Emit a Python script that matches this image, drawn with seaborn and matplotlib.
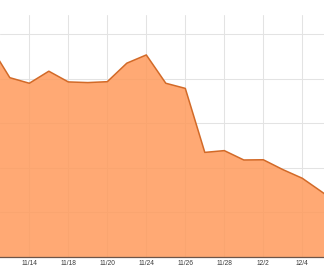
import matplotlib
matplotlib.use("Agg")
import matplotlib.pyplot as plt
import seaborn as sns
import pandas as pd

dates = ["11/12", "11/13", "11/14", "11/17", "11/18", "11/19", "11/20", "11/21",
         "11/24", "11/25", "11/26", "11/27", "11/28", "12/1", "12/2", "12/3",
         "12/4", "12/5", "12/8"]
values = [94.6, 80.4, 77.9, 83.3, 78.5, 78.2, 78.6, 86.9, 90.6, 77.9, 75.6,
          46.9, 47.7, 43.5, 43.6, 39.2, 35.3, 29.2, 23.0]
y_grid = [0, 20, 40, 60, 80, 100]

sns.set_style("white")
plt.rcParams['font.family'] = ['Liberation Sans', 'DejaVu Sans']

df = pd.DataFrame({"idx": range(len(values)), "value": values})

fig = plt.figure(figsize=(3.24, 2.77), dpi=100)
ax = fig.add_axes([0, 20 / 277, 1, 242 / 277])

ax.set_axisbelow(True)
ax.fill_between(df["idx"], df["value"], 0, color="#FF9A5C", alpha=0.85,
                linewidth=0, zorder=2)
sns.lineplot(data=df, x="idx", y="value", ax=ax, color="#D26A28",
             linewidth=1.1, zorder=3)

tick_pos = list(range(0, len(dates), 2))
ax.set_xticks(tick_pos)
ax.set_xticklabels([dates[i] for i in tick_pos])
ax.set_yticks(y_grid)
ax.set_yticklabels([])
ax.grid(True, color="#E3E3E3", linewidth=0.75, zorder=1)
ax.tick_params(axis="x", length=0, pad=2.0, labelsize=4.8, labelcolor="#3a3a3a")
ax.tick_params(axis="y", length=0)

ax.set_xlim(0.497, 17.113)
ax.set_ylim(0, 108.5)
ax.set_xlabel("")
ax.set_ylabel("")
for s in ["top", "left", "right"]:
    ax.spines[s].set_visible(False)
ax.spines["bottom"].set_color("#6e5548")
ax.spines["bottom"].set_linewidth(0.9)
ax.spines["bottom"].set_zorder(4)

fig.savefig("out.png", dpi=100)
